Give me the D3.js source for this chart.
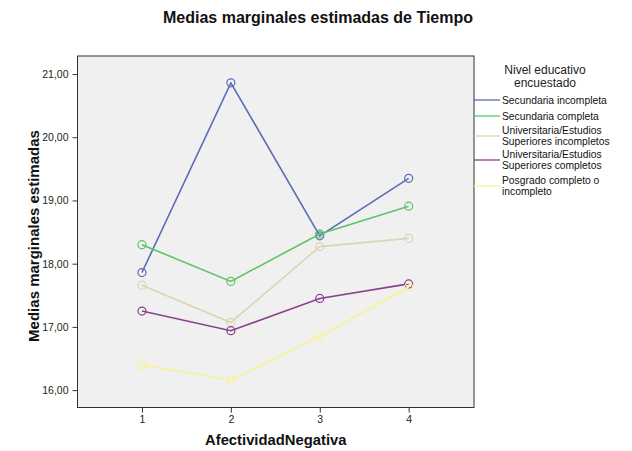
<!DOCTYPE html>
<html><head><meta charset="utf-8">
<script src="https://cdn.jsdelivr.net/npm/d3@7"></script>
<style>body{margin:0;background:#fff;} text{font-family:Arial, "Liberation Sans", sans-serif;}</style>
</head><body><svg id="c" width="632" height="451"></svg>
<script>
const categories = [1, 2, 3, 4];
const seriesNames = [
  ["Secundaria incompleta"],
  ["Secundaria completa"],
  ["Universitaria/Estudios", "Superiores incompletos"],
  ["Universitaria/Estudios", "Superiores completos"],
  ["Posgrado completo o", "incompleto"]
];
const secIncompleta = [17.86, 20.86, 18.44, 19.35];
const secCompleta = [18.30, 17.72, 18.47, 18.91];
const univIncompletos = [17.66, 17.07, 18.27, 18.40];
const univCompletos = [17.25, 16.94, 17.45, 17.68];
const posgrado = [16.40, 16.16, 16.85, 17.63];
const yTicks = [16, 17, 18, 19, 20, 21];
const colors = ["#5b6bb5", "#5cc467", "#d9d6b2", "#8b3f8f", "#f7f38e"];
const allSeries = [secIncompleta, secCompleta, univIncompletos, univCompletos, posgrado];

const svg = d3.select("#c");
const L = 77.5, R = 474, T = 56, B = 407.5;
const x = d3.scaleLinear().domain([0.275, 4.735]).range([L, R]);
const y = d3.scaleLinear().domain([15.725, 21.285]).range([B, T]);

svg.append("rect").attr("x", L).attr("y", T).attr("width", R - L).attr("height", B - T)
  .attr("fill", "#f0f0f0").attr("stroke", "#333").attr("stroke-width", 1);

// axes
const yAxis = d3.axisLeft(y).tickValues(yTicks).tickSize(5).tickSizeOuter(0)
  .tickFormat(d => d3.format(".2f")(d).replace(".", ","));
const gy = svg.append("g").attr("transform", `translate(${L},0)`).call(yAxis);
gy.select(".domain").remove();
gy.selectAll("line").attr("stroke", "#333");
gy.selectAll("text").attr("font-size", 10.5).attr("fill", "#222").attr("dx", -1);

const xAxis = d3.axisBottom(x).tickValues(categories).tickSize(5).tickSizeOuter(0).tickFormat(d3.format("d"));
const gx = svg.append("g").attr("transform", `translate(0,${B})`).call(xAxis);
gx.select(".domain").remove();
gx.selectAll("line").attr("stroke", "#333");
gx.selectAll("text").attr("font-size", 10.5).attr("fill", "#222");

// lines
const line = d3.line().x((d, i) => x(categories[i])).y(d => y(d));
allSeries.forEach((s, k) => {
  svg.append("path").datum(s).attr("d", line).attr("fill", "none")
    .attr("stroke", colors[k]).attr("stroke-width", 1.6);
  svg.selectAll(null).data(s).enter().append("circle")
    .attr("cx", (d, i) => x(categories[i])).attr("cy", d => y(d)).attr("r", 4)
    .attr("fill", "none").attr("stroke", colors[k]).attr("stroke-width", 1.2);
});

// titles
svg.append("text").attr("x", 318).attr("y", 23).attr("text-anchor", "middle")
  .attr("font-size", 16).attr("font-weight", "bold").attr("fill", "#111")
  .text("Medias marginales estimadas de Tiempo");
svg.append("text").attr("x", (L + R) / 2).attr("y", 445).attr("text-anchor", "middle")
  .attr("font-size", 14.8).attr("font-weight", "bold").attr("fill", "#111")
  .text("AfectividadNegativa");
svg.append("text").attr("transform", "translate(39,236) rotate(-90)").attr("text-anchor", "middle")
  .attr("font-size", 15).attr("font-weight", "bold").attr("fill", "#111")
  .text("Medias marginales estimadas");

// legend
const lg = svg.append("g");
lg.append("text").attr("x", 545).attr("y", 74).attr("text-anchor", "middle").attr("font-size", 12).attr("fill", "#222").text("Nivel educativo");
lg.append("text").attr("x", 545).attr("y", 87).attr("text-anchor", "middle").attr("font-size", 12).attr("fill", "#222").text("encuestado");
const lineY = [100, 116, 136, 160, 186];
seriesNames.forEach((nm, k) => {
  lg.append("line").attr("x1", 474).attr("x2", 500).attr("y1", lineY[k]).attr("y2", lineY[k])
    .attr("stroke", colors[k]).attr("stroke-width", 1.3);
  const y0 = nm.length === 1 ? lineY[k] + 3.5 : lineY[k] - 1.8;
  nm.forEach((t, j) => {
    lg.append("text").attr("x", 502).attr("y", y0 + j * 10.6).attr("font-size", 10.3).attr("fill", "#111").text(t);
  });
});
</script></body></html>
